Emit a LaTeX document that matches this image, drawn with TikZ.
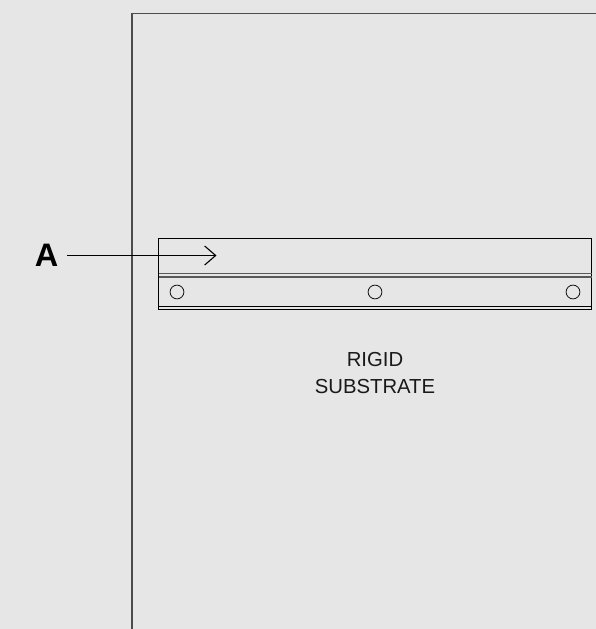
\documentclass[tikz,border=0pt]{standalone}
\usepackage{fontspec}
\setmainfont{Liberation Sans}
\usetikzlibrary{arrows.meta}
\definecolor{bggray}{HTML}{E6E6E6}
\tikzset{
 edgeline/.style={draw=black,line width=1.15pt},
 thinline/.style={draw=black!65,line width=1.2pt},
 hole/.style={circle,draw=black!90,line width=0.85pt,minimum size=13.8pt,inner sep=0pt,fill=none},
 labeltext/.style={font=\fontsize{20.3pt}{27pt}\selectfont,align=center,text=black!90,inner sep=0pt},
 pointer/.style={draw=black,line width=1.1pt,-{Straight Barb[length=11pt,width=19pt,line width=1.1pt]}}
}
\begin{document}
\begin{tikzpicture}[x=1pt,y=-1pt]
\useasboundingbox (0,0) rectangle (596,629);
\fill[bggray] (0,0) rectangle (596,629);
% substrate outline
\draw[draw=black!70,line width=1.4pt] (132,629) -- (132,13.5) -- (596,13.5);
% strip
\draw[edgeline] (158.5,238.5) rectangle (591.5,309.5);
\draw[thinline] (158.5,273.8) -- (591.5,273.8);
\draw[thinline] (158.5,277) -- (591.5,277);
\draw[edgeline,line width=0.9pt] (158.5,306.3) -- (591.5,306.3);
\node[hole] (h1) at (177,292) {};
\node[hole] (h2) at (375,292) {};
\node[hole] (h3) at (573,292) {};
\node[font=\fontsize{32.5pt}{32.5pt}\selectfont\bfseries,inner sep=0pt] (a) at (46.5,255) {A};
\coordinate (tip) at (216.5,255.5);
\draw[pointer] (67,255.5) -- (tip);
\node[labeltext] (lab) at (375,373.5) {RIGID\\SUBSTRATE};
\end{tikzpicture}
\end{document}
